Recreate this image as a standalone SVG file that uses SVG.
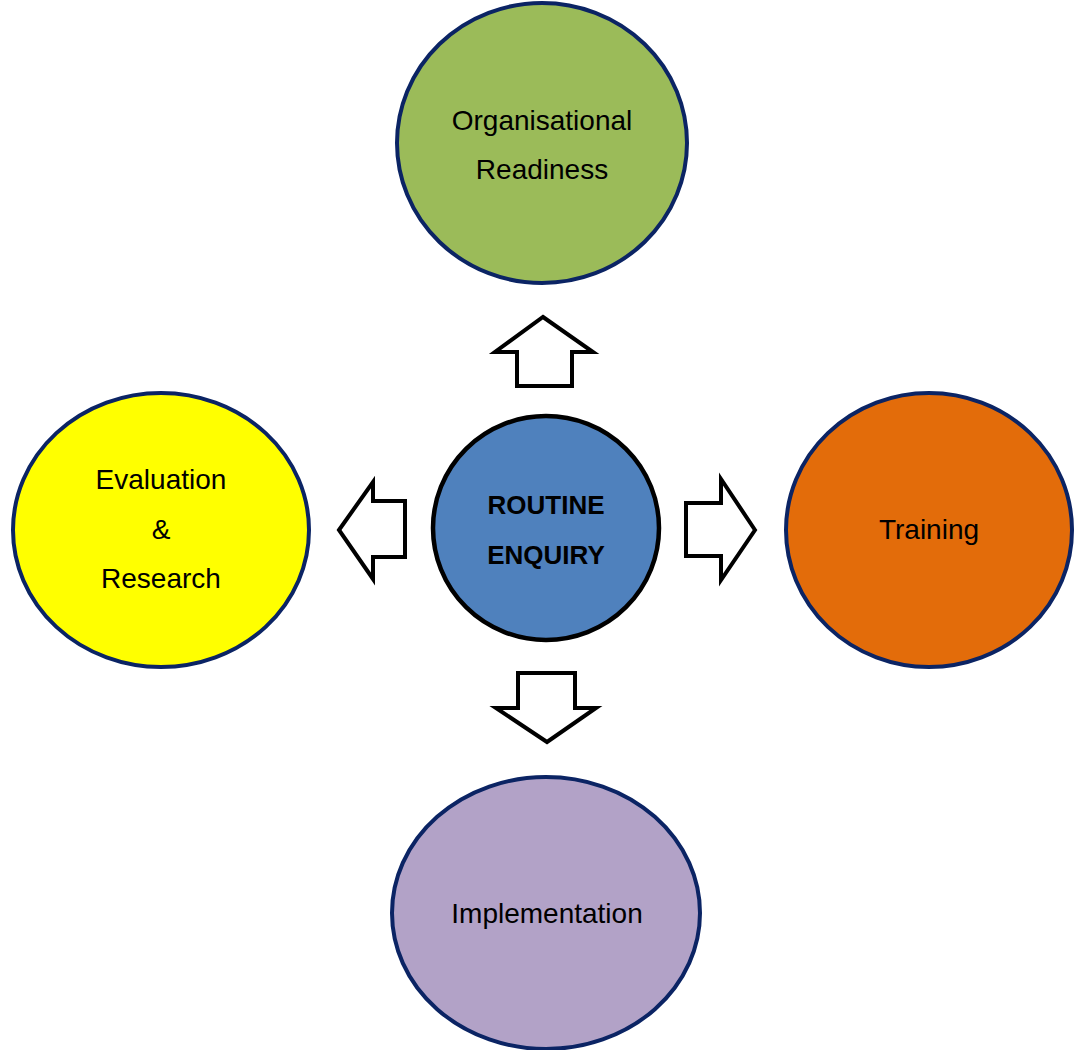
<svg xmlns="http://www.w3.org/2000/svg" width="1077" height="1050" viewBox="0 0 1077 1050">
  <style>
    .node { stroke: #0b2464; stroke-width: 4; }
    .lbl { font-family: "Liberation Sans", Arial, sans-serif; font-size: 28px; fill: #000; text-anchor: middle; }
    .bold { font-weight: bold; font-size: 26px; }
    .arrow { fill: #fff; stroke: #000; stroke-width: 4; stroke-linejoin: miter; }
  </style>
  <rect width="1077" height="1050" fill="#fff"/>
  <g id="connectors">
    <polygon class="arrow" points="543,317 593,352 572,352 572,386 517,386 517,352 495,352"/>
    <polygon class="arrow" points="339,530 373,482 373,501 405,501 405,557 373,557 373,579"/>
    <polygon class="arrow" points="755,530 721,479 721,503 686,503 686,556 721,556 721,580"/>
    <polygon class="arrow" points="547,742 596,708 575,708 575,673 518,673 518,708 496,708"/>
  </g>
  <g id="node-readiness">
    <ellipse class="node" cx="542" cy="143" rx="145" ry="140" fill="#9BBB59"/>
    <text class="lbl" x="542" y="130">Organisational</text>
    <text class="lbl" x="542" y="179">Readiness</text>
  </g>
  <g id="node-evaluation">
    <ellipse class="node" cx="161" cy="530" rx="148" ry="137" fill="#FFFF00"/>
    <text class="lbl" x="161" y="489">Evaluation</text>
    <text class="lbl" x="161" y="539">&amp;</text>
    <text class="lbl" x="161" y="588">Research</text>
  </g>
  <g id="node-training">
    <ellipse class="node" cx="929" cy="530" rx="143" ry="137" fill="#E36C0A"/>
    <text class="lbl" x="929" y="539">Training</text>
  </g>
  <g id="node-implementation">
    <ellipse class="node" cx="546" cy="913" rx="154" ry="136" fill="#B2A2C7"/>
    <text class="lbl" x="547" y="923">Implementation</text>
  </g>
  <g id="node-routine">
    <ellipse cx="546" cy="528" rx="113" ry="112" fill="#4F81BD" stroke="#000" stroke-width="4.5"/>
    <text class="lbl bold" x="546" y="514">ROUTINE</text>
    <text class="lbl bold" x="546" y="564">ENQUIRY</text>
  </g>
</svg>
